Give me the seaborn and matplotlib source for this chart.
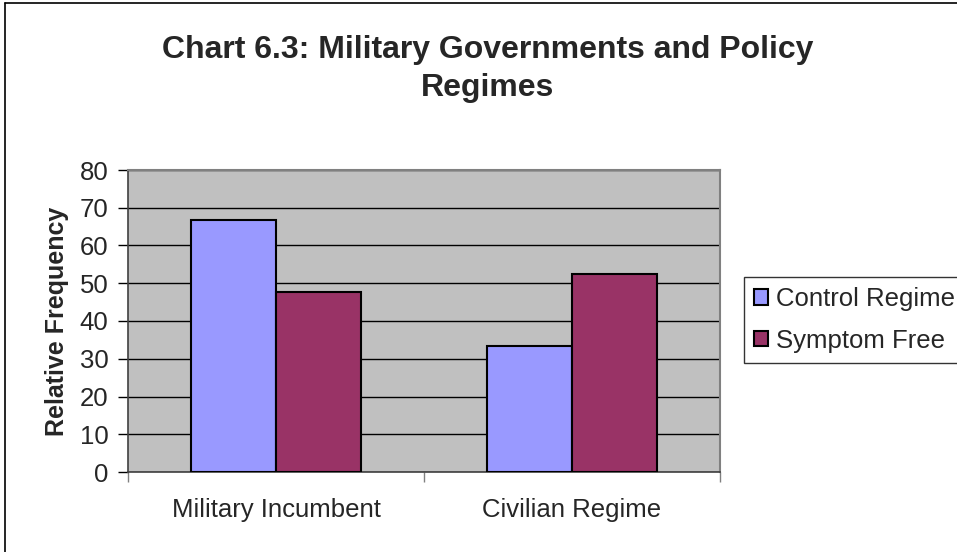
import pandas as pd
import seaborn as sns
import matplotlib.pyplot as plt
from matplotlib.lines import Line2D
from matplotlib.ticker import FixedLocator

# values
categories = ['Military Incumbent', 'Civilian Regime']
control_regime = [66.7, 33.3]
symptom_free = [47.6, 52.4]
series_names = ['Control Regime', 'Symptom Free']
y_ticks = [0, 10, 20, 30, 40, 50, 60, 70, 80]

df = pd.DataFrame({
    'category': categories * 2,
    'series': [series_names[0]] * 2 + [series_names[1]] * 2,
    'value': control_regime + symptom_free,
})

sns.set_style('white')
plt.rcParams['font.family'] = ['Liberation Sans', 'DejaVu Sans']

fig = plt.figure(figsize=(9.57, 5.52), dpi=100)
ax = fig.add_axes([128 / 957, 80 / 552, 592 / 957, 302 / 552])
ax.set_facecolor('#C0C0C0')

g = sns.barplot(data=df, x='category', y='value', hue='series',
                palette=['#9999FF', '#993366'], saturation=1,
                width=0.571, gap=0,
                edgecolor='black', linewidth=1.5, ax=ax, zorder=3)

ax.set_xlim(-0.5, 1.5)
ax.set_ylim(0, 80)
ax.set_yticks(y_ticks)
ax.yaxis.grid(True, color='black', linewidth=1)
ax.set_axisbelow(True)

ax.xaxis.set_minor_locator(FixedLocator([-0.5, 0.5, 1.5]))
ax.tick_params(axis='x', which='major', length=0, pad=19, labelsize=18.5)
ax.tick_params(axis='x', which='minor', length=7, width=1, color='#808080',
               direction='out', bottom=True)
ax.tick_params(axis='y', length=7, width=1, color='black', direction='out',
               left=True, labelsize=18.5, pad=7)

for s in ['top', 'right']:
    ax.spines[s].set_color('#808080')
    ax.spines[s].set_linewidth(1.5)
for s in ['left', 'bottom']:
    ax.spines[s].set_color('#404040')
    ax.spines[s].set_linewidth(1.2)

ax.set_xlabel('')
ax.set_ylabel('Relative Frequency', fontsize=18, fontweight='bold', labelpad=8)

handles, labels = ax.get_legend_handles_labels()
ax.get_legend().remove()
leg = fig.legend(handles, labels, loc='upper left',
                 bbox_to_anchor=(744 / 957, 1 - 277 / 552),
                 fontsize=18.5, frameon=True, fancybox=False,
                 edgecolor='black', handlelength=0.55, handleheight=0.55,
                 handletextpad=0.3, labelspacing=0.68, borderpad=0.4,
                 borderaxespad=0)
leg.get_frame().set_linewidth(1)

fig.text(488 / 957, 1 - 50 / 552, 'Chart 6.3: Military Governments and Policy',
         ha='center', va='center', fontsize=23, fontweight='bold')
fig.text(488 / 957, 1 - 88 / 552, 'Regimes',
         ha='center', va='center', fontsize=23, fontweight='bold')

# outer chart border (only left and top edges visible)
fig.add_artist(Line2D([5 / 957, 5 / 957], [0, 1 - 3 / 552], color='black',
                      linewidth=1.2, transform=fig.transFigure))
fig.add_artist(Line2D([5 / 957, 1], [1 - 3 / 552, 1 - 3 / 552], color='black',
                      linewidth=1.2, transform=fig.transFigure))

plt.savefig('out.png', dpi=100)
